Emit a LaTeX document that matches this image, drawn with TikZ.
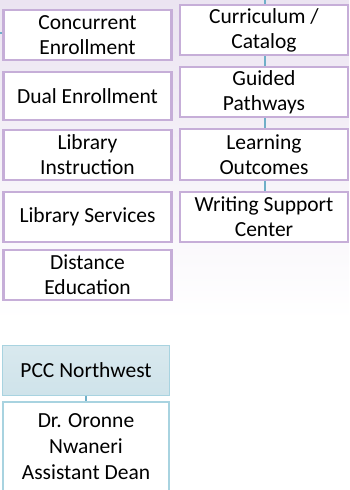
\documentclass[tikz,border=0pt]{standalone}
\usepackage{fontspec}
\setmainfont{Carlito}
\definecolor{lavb}{HTML}{C6AED8}
\definecolor{lavbg}{HTML}{EBE4F1}
\definecolor{conn}{HTML}{6FAFC8}
\definecolor{blueb}{HTML}{A8D3E0}
\definecolor{bluef}{HTML}{CFE3EA}
\begin{document}
\begin{tikzpicture}[x=1pt,y=-1pt,
  lbox/.style={draw=lavb,line width=2.3pt,fill=white,minimum width=168pt,inner sep=0pt,align=center,font=\fontsize{21.5}{25}\selectfont},
  conline/.style={draw=conn,line width=2.2pt}]
\useasboundingbox (0,0) rectangle (349,490);
\shade[top color=lavbg,bottom color=white] (0,0) rectangle (349,320);
\coordinate (rtop) at (265,0);
\coordinate (lstub) at (0,33);
% left column
\node[lbox,minimum height=50pt] (ce) at (87.5,35) {Concurrent\\Enrollment};
\node[lbox,minimum height=48pt] (de) at (87.5,96) {Dual Enrollment};
\node[lbox,minimum height=50pt] (li) at (87.5,155) {Library\\Instruction};
\node[lbox,minimum height=50pt] (ls) at (87.5,217) {Library Services};
\node[lbox,minimum height=50pt] (dist) at (87.5,275) {Distance\\Education};
% right column
\node[lbox,minimum height=50pt] (cur) at (264,30) {Curriculum /\\Catalog};
\node[lbox,minimum height=50pt] (gp) at (264,92) {Guided\\Pathways};
\node[lbox,minimum height=51pt] (lo) at (264,154.5) {Learning\\Outcomes};
\node[lbox,minimum height=50pt] (wsc) at (264,217) {Writing Support\\Center};
\draw[conline] (rtop) -- (cur.north -| rtop);
\draw[conline] (cur.south -| rtop) -- (gp.north -| rtop);
\draw[conline] (gp.south -| rtop) -- (lo.north -| rtop);
\draw[conline] (lo.south -| rtop) -- (wsc.north -| rtop);
\draw[conline] (lstub) -- (ce.west |- lstub);
% PCC Northwest
\node[draw=blueb,line width=1pt,top color=bluef!80!white,bottom color=bluef,minimum width=167pt,minimum height=50pt,inner sep=0pt,font=\fontsize{21.5}{25}\selectfont] (pcc) at (86,370) {PCC Northwest};
\node[draw=blueb,line width=2.5pt,fill=white,minimum width=166pt,minimum height=90pt,inner sep=0pt,align=center,font=\fontsize{21.5}{26}\selectfont] (dr) at (86,447) {Dr. Oronne\\Nwaneri\\Assistant Dean};
\draw[conline] (pcc.south) -- (dr.north);
\end{tikzpicture}
\end{document}
